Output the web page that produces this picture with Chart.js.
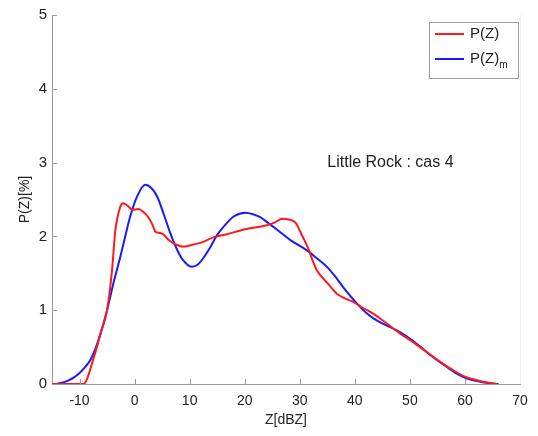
<!DOCTYPE html>
<html>
<head>
<meta charset="utf-8">
<script src="https://cdn.jsdelivr.net/npm/chart.js@4"></script>
<style>
  html, body { margin: 0; padding: 0; background: #fff; }
  #wrap { width: 538px; height: 436px; }
</style>
</head>
<body>
<div id="wrap"><canvas id="grafico"></canvas></div>
<script>
// Z en dBZ et P(Z) en %
const zObs = [-15, -9.3, -7.4, -6.2, -5, -4.1, -3.5, -2.6, -2.1, -1.2, -0.4, 0.7, 1.6, 2.6, 3.3, 3.8, 5.0, 6.2, 7.5, 8.9,
  10.7, 12.6, 14.4, 16.8, 19.2, 21.0, 24.0, 25.5, 26.8, 28.0, 29.3, 30.3, 31.4, 32.3, 33.1, 35, 36.8, 38.2, 39.8,
  41.5, 43.4, 45.8, 48.3, 50.5, 53.1, 55.5, 58, 60, 62.2, 64, 65.8];
const pObs = [0, 0, 0.36, 0.68, 1.0, 1.54, 2.08, 2.40, 2.45, 2.41, 2.36, 2.37, 2.33, 2.25, 2.15, 2.06, 2.04, 1.95, 1.89, 1.86,
  1.89, 1.93, 1.99, 2.03, 2.08, 2.11, 2.15, 2.19, 2.24, 2.23, 2.18, 2.03, 1.86, 1.68, 1.54, 1.37, 1.22, 1.16, 1.11,
  1.03, 0.95, 0.82, 0.68, 0.57, 0.43, 0.30, 0.18, 0.10, 0.05, 0.02, 0];

const zMod = [-15, -14, -13, -12, -11, -10, -9, -8, -7, -6, -5, -3.8, -2.6, -1.7, -0.8, 0.5, 1.95, 3.0, 4.1, 5.3, 6.5, 7.6,
  8.6, 10.4, 11.5, 12.6, 13.8, 15, 16.5, 18, 20.1, 21.5, 22.8, 24.3, 25.9, 28.3, 31.3, 33, 34.9, 36.5, 37.9, 40.4,
  42, 43.4, 45, 47, 48.5, 50.1, 52, 54.3, 56.5, 58.5, 60.5, 62.8, 64.5, 66.1];
const pMod = [0, 0.005, 0.02, 0.05, 0.09, 0.15, 0.23, 0.33, 0.5, 0.73, 1.0, 1.38, 1.72, 2.0, 2.27, 2.55, 2.70, 2.66, 2.54, 2.30, 2.04, 1.84,
  1.70, 1.59, 1.62, 1.72, 1.86, 2.02, 2.16, 2.27, 2.32, 2.30, 2.26, 2.18, 2.09, 1.95, 1.81, 1.71, 1.59, 1.45, 1.31, 1.09,
  0.97, 0.89, 0.82, 0.75, 0.69, 0.61, 0.50, 0.36, 0.24, 0.14, 0.07, 0.03, 0.01, 0];

const xTicks = [-10, 0, 10, 20, 30, 40, 50, 60, 70];
const yTicks = [0, 1, 2, 3, 4, 5];
const labelsSeries = ['P(Z)', 'P(Z)m'];
const texteCas = 'Little Rock : cas 4';

const police = '"Liberation Sans", Arial, sans-serif';

function pontos(zs, ps) {
  return zs.map((z, i) => ({ x: z, y: ps[i] }));
}

// petits traits de graduation vers l'interieur, legende et texte
const decorPlugin = {
  id: 'decor',
  afterDraw(chart) {
    const ctx = chart.ctx;
    const xs = chart.scales.x, ys = chart.scales.y;
    const area = chart.chartArea;
    ctx.save();
    ctx.strokeStyle = '#9a9a9a';
    ctx.lineWidth = 1;
    ctx.beginPath();
    xTicks.forEach(v => {
      const px = Math.round(xs.getPixelForValue(v)) + 0.5;
      ctx.moveTo(px, area.bottom);
      ctx.lineTo(px, area.bottom - 5);
    });
    yTicks.forEach(v => {
      const py = Math.round(ys.getPixelForValue(v)) + 0.5;
      ctx.moveTo(area.left, py);
      ctx.lineTo(area.left + 5, py);
    });
    ctx.stroke();
    ctx.strokeStyle = '#ececec';
    ctx.beginPath();
    ctx.moveTo(area.right + 0.5, area.top);
    ctx.lineTo(area.right + 0.5, area.bottom);
    ctx.stroke();

    // texte
    ctx.fillStyle = '#222';
    ctx.font = '16px ' + police;
    ctx.textBaseline = 'middle';
    ctx.textAlign = 'left';
    ctx.fillText(texteCas, xs.getPixelForValue(35), ys.getPixelForValue(3.0));

    // legende
    const bx = 429.5, by = 22.5, bw = 89, bh = 56;
    ctx.fillStyle = '#fff';
    ctx.fillRect(bx, by, bw, bh);
    ctx.strokeStyle = '#a0a0a0';
    ctx.strokeRect(bx, by, bw, bh);
    chart.data.datasets.forEach((ds, i) => {
      const ly = i === 0 ? 34 : 59;
      ctx.strokeStyle = ds.borderColor;
      ctx.lineWidth = 2;
      ctx.beginPath();
      ctx.moveTo(435, ly);
      ctx.lineTo(464, ly);
      ctx.stroke();
      ctx.fillStyle = '#222';
      ctx.font = '15px ' + police;
      ctx.textBaseline = 'middle';
      ctx.fillText('P(Z)', 470, ly);
      if (i === 1) {
        const w = ctx.measureText('P(Z)').width;
        ctx.font = '10px ' + police;
        ctx.fillText('m', 470 + w, ly + 6);
      }
    });
    ctx.restore();
  }
};

const contexto = document.getElementById('grafico').getContext('2d');
const meuGrafico = new Chart(contexto, {
  type: 'line',
  data: {
    datasets: [{
      label: labelsSeries[0],
      data: pontos(zObs, pObs),
      borderColor: '#ff1a1a',
      borderWidth: 2,
      pointRadius: 0,
      cubicInterpolationMode: 'monotone',
      fill: false
    }, {
      label: labelsSeries[1],
      data: pontos(zMod, pMod),
      borderColor: '#1a1aff',
      borderWidth: 2,
      pointRadius: 0,
      cubicInterpolationMode: 'monotone',
      fill: false
    }]
  },
  options: {
    responsive: true,
    maintainAspectRatio: false,
    animation: false,
    layout: { padding: { top: 15, right: 18, left: 0, bottom: 0 } },
    plugins: {
      legend: { display: false },
      tooltip: { enabled: false }
    },
    scales: {
      x: {
        type: 'linear',
        min: -15,
        max: 70,
        afterBuildTicks: s => { s.ticks = xTicks.map(v => ({ value: v })); },
        afterFit: s => { s.height = 52; },
        grid: { drawOnChartArea: false, drawTicks: false },
        border: { color: '#999', width: 1 },
        ticks: { padding: 9, color: '#222', font: { family: police, size: 14 } },
        title: {
          display: true, text: 'Z[dBZ]', color: '#222',
          font: { family: police, size: 14 }, padding: { top: 7, bottom: 7 }
        }
      },
      y: {
        min: 0,
        max: 5,
        afterBuildTicks: s => { s.ticks = yTicks.map(v => ({ value: v })); },
        afterFit: s => { s.width = 52; },
        grid: { drawOnChartArea: false, drawTicks: false },
        border: { color: '#999', width: 1 },
        ticks: { padding: 5, color: '#222', font: { family: police, size: 15 } },
        title: {
          display: true, text: 'P(Z)[%]', color: '#222',
          font: { family: police, size: 14 }, padding: { top: 17, bottom: 17 }
        }
      }
    }
  },
  plugins: [decorPlugin]
});
</script>
</body>
</html>
